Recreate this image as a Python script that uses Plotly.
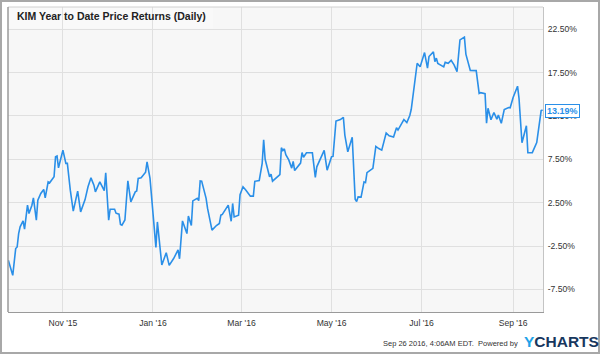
import plotly.graph_objects as go

title_text = "KIM Year to Date Price Returns (Daily)"

dates = [
    "2015-09-25", "2015-09-28", "2015-09-30", "2015-10-01", "2015-10-02", "2015-10-03",
    "2015-10-05", "2015-10-06", "2015-10-08", "2015-10-09", "2015-10-11", "2015-10-12",
    "2015-10-14", "2015-10-15", "2015-10-17", "2015-10-19", "2015-10-20", "2015-10-22",
    "2015-10-23", "2015-10-25", "2015-10-26", "2015-10-27", "2015-10-28", "2015-10-29",
    "2015-10-31", "2015-11-01", "2015-11-03", "2015-11-04", "2015-11-06", "2015-11-08",
    "2015-11-11", "2015-11-13", "2015-11-16", "2015-11-18", "2015-11-20", "2015-11-22",
    "2015-11-23", "2015-11-26", "2015-11-29", "2015-11-30", "2015-12-02", "2015-12-03",
    "2015-12-06", "2015-12-07", "2015-12-09", "2015-12-10", "2015-12-11", "2015-12-13",
    "2015-12-15", "2015-12-17", "2015-12-20", "2015-12-21", "2015-12-22", "2015-12-24",
    "2015-12-27", "2015-12-28", "2015-12-30", "2016-01-01", "2016-01-03", "2016-01-04",
    "2016-01-07", "2016-01-10", "2016-01-12", "2016-01-15", "2016-01-18", "2016-01-19",
    "2016-01-21", "2016-01-24", "2016-01-25", "2016-01-27", "2016-01-28", "2016-01-31",
    "2016-02-01", "2016-02-02", "2016-02-03", "2016-02-06", "2016-02-07", "2016-02-10",
    "2016-02-13", "2016-02-15", "2016-02-16", "2016-02-17", "2016-02-20", "2016-02-21",
    "2016-02-23", "2016-02-24", "2016-02-25", "2016-02-28", "2016-02-29", "2016-03-02",
    "2016-03-04", "2016-03-07", "2016-03-09", "2016-03-10", "2016-03-13", "2016-03-15",
    "2016-03-16", "2016-03-17", "2016-03-20", "2016-03-21", "2016-03-22", "2016-03-25",
    "2016-03-27", "2016-03-28", "2016-03-29", "2016-03-30", "2016-03-31", "2016-04-02",
    "2016-04-04", "2016-04-05", "2016-04-06", "2016-04-10", "2016-04-11", "2016-04-12",
    "2016-04-14", "2016-04-18", "2016-04-20", "2016-04-21", "2016-04-23", "2016-04-26",
    "2016-04-28", "2016-05-01", "2016-05-02", "2016-05-04", "2016-05-07", "2016-05-09",
    "2016-05-10", "2016-05-12", "2016-05-15", "2016-05-17", "2016-05-18", "2016-05-19",
    "2016-05-21", "2016-05-23", "2016-05-24", "2016-05-25", "2016-05-29", "2016-05-31",
    "2016-06-02", "2016-06-04", "2016-06-07", "2016-06-09", "2016-06-12", "2016-06-14",
    "2016-06-15", "2016-06-19", "2016-06-21", "2016-06-23", "2016-06-24", "2016-06-26",
    "2016-06-28", "2016-06-30", "2016-07-03", "2016-07-05", "2016-07-06", "2016-07-09",
    "2016-07-10", "2016-07-11", "2016-07-12", "2016-07-16", "2016-07-17", "2016-07-19",
    "2016-07-21", "2016-07-23", "2016-07-25", "2016-07-27", "2016-07-30", "2016-07-31",
    "2016-08-03", "2016-08-07", "2016-08-09", "2016-08-10", "2016-08-13", "2016-08-14",
    "2016-08-15", "2016-08-17", "2016-08-19", "2016-08-21", "2016-08-22", "2016-08-24",
    "2016-08-26", "2016-08-29", "2016-08-30", "2016-09-01", "2016-09-04", "2016-09-05",
    "2016-09-07", "2016-09-10", "2016-09-11", "2016-09-14", "2016-09-17", "2016-09-20",
    "2016-09-21",
]

returns = [
    -4.14, -5.87, -2.79, -2.60, -1.06, -0.29,
    0.40, -0.56, 2.21, 1.25, 2.21, 3.05,
    0.48, 2.79, 3.56, 4.02, 3.05, 4.90,
    4.79, 5.18, 5.48, 7.79, 7.87, 6.52,
    7.79, 8.56, 7.03, 7.03, 3.94, 1.52,
    3.83, 1.44, 2.85, 4.33, 5.36, 4.52,
    3.75, 4.90, 3.89, 5.94, 0.48, 1.75,
    1.75, 1.29, 1.17, -0.01, -0.10, 0.51,
    5.02, 2.59, 3.75, 3.85, 5.29, 5.36,
    6.02, 7.21, 5.29, 1.52, -2.66, 0.28,
    -4.68, -3.27, -4.72, -3.94, -2.95, -3.97,
    0.40, -1.06, 0.96, -0.13, 2.70, 3.00,
    2.73, 5.01, 4.98, 2.99, 1.83, -0.67,
    -0.13, 0.10, 1.06, 1.14, 1.92, 2.21,
    0.36, 2.41, 0.86, 1.06, 3.42, 4.33,
    3.94, 3.25, 3.25, 4.96, 5.06, 7.03,
    9.75, 7.50, 5.48, 5.79, 4.98, 5.44,
    5.73, 8.83, 8.50, 8.70, 8.02, 7.43,
    6.48, 7.26, 6.20, 7.06, 8.27, 7.73,
    8.25, 8.25, 5.41, 6.63, 7.35, 8.53,
    6.25, 7.79, 7.83, 11.91, 12.08, 12.34,
    10.29, 8.36, 10.03, 2.90, 2.62, 3.17,
    3.14, 4.90, 4.81, 5.96, 6.45, 8.99,
    8.74, 8.56, 10.53, 10.21, 10.06, 11.13,
    10.87, 12.08, 11.72, 12.55, 13.26, 16.30,
    18.57, 18.15, 19.80, 18.00, 19.34, 19.88,
    18.76, 19.15, 18.53, 18.15, 18.67, 18.57,
    18.90, 18.38, 17.60, 21.26, 21.58, 19.62,
    17.74, 17.72, 15.09, 15.18, 15.06, 11.65,
    13.38, 12.06, 12.89, 12.12, 12.60, 11.65,
    13.22, 13.47, 13.44, 14.62, 15.92, 14.53,
    9.41, 11.36, 8.25, 8.27, 9.43, 13.12,
    13.19,
]

y_tickvals = [-7.5, -2.5, 2.5, 7.5, 12.5, 17.5, 22.5]
y_ticktext = ["-7.50%", "-2.50%", "2.50%", "7.50%", "12.50%", "17.50%", "22.50%"]
x_tickvals = ["2015-11-01", "2016-01-01", "2016-03-01", "2016-05-01", "2016-07-01", "2016-09-01"]
x_ticktext = ["Nov '15", "Jan '16", "Mar '16", "May '16", "Jul '16", "Sep '16"]
last_label = "13.19%"
footer_text = "Sep 26 2016, 4:06AM EDT.  Powered by"

LINE = "#2a8fe8"
FONT = "Liberation Sans, Arial, sans-serif"

W, H = 600, 354
ML, MR, MT, MB = 8, 57, 7, 42
PW, PH = W - ML - MR, H - MT - MB


def px_to_paper_x(px):
    return (px - ML) / PW


def px_to_paper_y(py):
    return (H - MB - py) / PH


fig = go.Figure()
fig.add_trace(go.Scatter(
    x=dates, y=returns, mode="lines",
    line=dict(color=LINE, width=1.6), hoverinfo="skip", showlegend=False,
))

fig.update_layout(
    width=W, height=H,
    margin=dict(l=ML, r=MR, t=MT, b=MB, pad=0),
    paper_bgcolor="white", plot_bgcolor="#f7f7f7",
    font=dict(family=FONT, size=8.6, color="#333333"),
    xaxis=dict(
        type="date",
        range=["2015-09-24 19:00", "2016-09-21 06:00"],
        tickvals=x_tickvals, ticktext=x_ticktext,
        showgrid=True, gridcolor="#e0e0e0", gridwidth=1,
        showline=True, linecolor="#9a9a9a", linewidth=1,
        ticks="outside", ticklen=3, tickcolor="rgba(0,0,0,0)",
        zeroline=False, fixedrange=True,
    ),
    yaxis=dict(
        side="right",
        range=[-10.1, 25.05],
        tickvals=y_tickvals, ticktext=y_ticktext,
        showgrid=True, gridcolor="#e0e0e0", gridwidth=1.4,
        showline=True, linecolor="#c4c4c4", linewidth=1,
        ticks="outside", ticklen=2, tickcolor="rgba(0,0,0,0)",
        zeroline=False, fixedrange=True,
    ),
)

shapes = [
    dict(type="rect", xref="paper", yref="paper", layer="between",
         x0=0, x1=px_to_paper_x(213), y0=px_to_paper_y(28.3), y1=1,
         fillcolor="#f9f9f9", line=dict(width=0)),
    dict(type="line", xref="paper", yref="paper", x0=0, x1=1, y0=1, y1=1,
         line=dict(color="#d0d0d0", width=1)),
    dict(type="line", xref="paper", yref="paper", x0=0, x1=0, y0=0, y1=1,
         line=dict(color="#9a9a9a", width=1.5)),
    dict(type="rect", xref="paper", yref="paper",
         x0=px_to_paper_x(1), x1=px_to_paper_x(599), y0=px_to_paper_y(353), y1=px_to_paper_y(1),
         line=dict(color="#a8a8a8", width=2), fillcolor="rgba(0,0,0,0)"),
]
fig.update_layout(shapes=shapes)

fig.add_annotation(
    text="<b>" + title_text + "</b>", xref="paper", yref="paper",
    x=px_to_paper_x(15), y=px_to_paper_y(16.5), xanchor="left", yanchor="middle",
    showarrow=False, font=dict(family=FONT, size=10.5, color="#222222"),
)
fig.add_annotation(
    text="<b>" + last_label + "</b>", xref="paper", yref="y",
    x=1, y=returns[-1], xanchor="left", yanchor="middle", xshift=2, yshift=-1,
    showarrow=False, bgcolor="white", bordercolor=LINE, borderwidth=1, borderpad=1,
    font=dict(family=FONT, size=9, color=LINE),
)
fig.add_annotation(
    text=footer_text, xref="paper", yref="paper",
    x=px_to_paper_x(520), y=px_to_paper_y(343), xanchor="right", yanchor="middle",
    showarrow=False, font=dict(family=FONT, size=7.5, color="#333333"),
)
fig.add_annotation(
    text="<b><span style='color:#1fa3e8'>Y</span>CHARTS</b>", xref="paper", yref="paper",
    x=px_to_paper_x(522), y=px_to_paper_y(341.5), xanchor="left", yanchor="middle",
    showarrow=False, font=dict(family=FONT, size=15.5, color="#17375e"),
)

fig.write_html("out.html")
